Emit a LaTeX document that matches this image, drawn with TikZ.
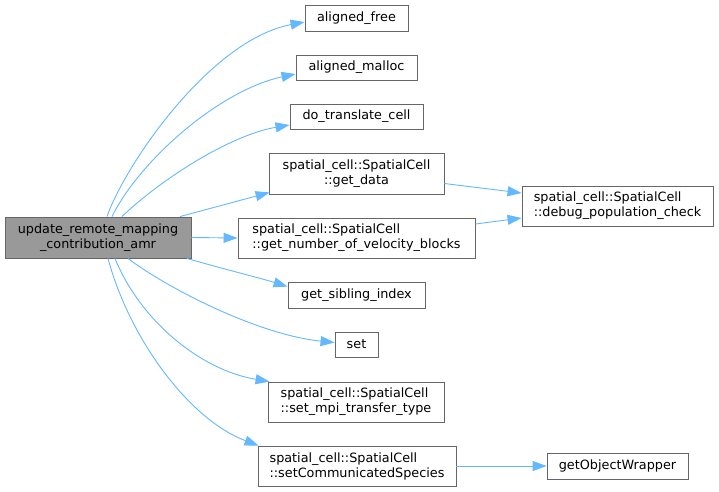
\documentclass[tikz,border=0pt]{standalone}
\usepackage{fontspec}
\setmainfont{DejaVu Sans}
\usetikzlibrary{arrows.meta}
\definecolor{edgeblue}{HTML}{63B8FF}
\definecolor{boxborder}{HTML}{666666}
\definecolor{mainfill}{HTML}{999999}
\begin{document}
\begin{tikzpicture}[x=1pt,y=-1pt,
  box/.style={draw=boxborder,line width=0.9pt,fill=white,inner sep=0pt,
    font=\fontsize{12.8}{15}\selectfont,text=black},
  mainbox/.style={box,fill=mainfill},
  edge/.style={draw=edgeblue,line width=0.9pt,-{Triangle[length=14pt,width=10pt]}}]
\useasboundingbox (0,0) rectangle (719,491);
% nodes
\node[mainbox,minimum width=186pt,minimum height=41pt,align=center] (main) at (98,237.5) {update\_remote\_mapping\\\_contribution\_amr};
\node[box,minimum width=103pt,minimum height=26pt] (afree) at (356.5,18) {aligned\_free};
\node[box,minimum width=121pt,minimum height=25pt] (amalloc) at (356.5,67.5) {aligned\_malloc};
\node[box,minimum width=133pt,minimum height=25pt] (dotrans) at (356.5,116.5) {do\_translate\_cell};
\node[box,minimum width=175pt,minimum height=41pt,align=center] (getdata) at (356.5,173.5) {spatial\_cell::SpatialCell\\::get\_data};
\node[box,minimum width=237pt,minimum height=40pt,align=left] (getnum) at (356.5,238) {spatial\_cell::SpatialCell\\::get\_number\_of\_velocity\_blocks};
\node[box,minimum width=137pt,minimum height=26pt] (sibling) at (356.5,295) {get\_sibling\_index};
\node[box,minimum width=43pt,minimum height=25pt] (setn) at (356.5,344.5) {set};
\node[box,minimum width=176pt,minimum height=40pt,align=left] (mpi) at (356,402) {spatial\_cell::SpatialCell\\::set\_mpi\_transfer\_type};
\node[box,minimum width=198pt,minimum height=40pt,align=left] (comm) at (357,466) {spatial\_cell::SpatialCell\\::setCommunicatedSpecies};
\node[box,minimum width=191pt,minimum height=40pt,align=left] (debug) at (617.5,206) {spatial\_cell::SpatialCell\\::debug\_population\_check};
\node[box,minimum width=141pt,minimum height=26pt] (objw) at (617.5,466) {getObjectWrapper};
% edges
\draw[edge] ([xshift=9pt]main.north) .. controls (125,165) and (210,40) .. ([yshift=-4pt]afree.west);
\draw[edge] ([xshift=14pt]main.north) .. controls (140,160) and (220,90) .. ([yshift=-6.5pt]amalloc.west);
\draw[edge] ([xshift=24pt]main.north) .. controls (160,180) and (230,135) .. ([yshift=-8.5pt]dotrans.west);
\draw[edge] ([xshift=82pt]main.north) -- ([xshift=1pt,yshift=2pt]getdata.south west);
\draw[edge] (main.east) -- (getnum.west);
\draw[edge] ([xshift=89pt]main.south) .. controls (220,268) and (260,278) .. ([yshift=-5pt]sibling.north west);
\draw[edge] ([xshift=30pt]main.south) .. controls (170,290) and (260,335) .. ([yshift=2pt]setn.west);
\draw[edge] ([xshift=17pt]main.south) .. controls (140,320) and (200,370) .. ([xshift=2pt]mpi.north west);
\draw[edge] ([xshift=10pt]main.south) .. controls (130,340) and (190,420) .. ([xshift=1pt]comm.north west);
\draw[edge] ([yshift=-10pt]getdata.east) -- ([yshift=13pt]debug.west);
\draw[edge] ([yshift=14pt]getnum.east) -- ([yshift=-12pt]debug.west);
\draw[edge] (comm.east) -- (objw.west);
\end{tikzpicture}
\end{document}
